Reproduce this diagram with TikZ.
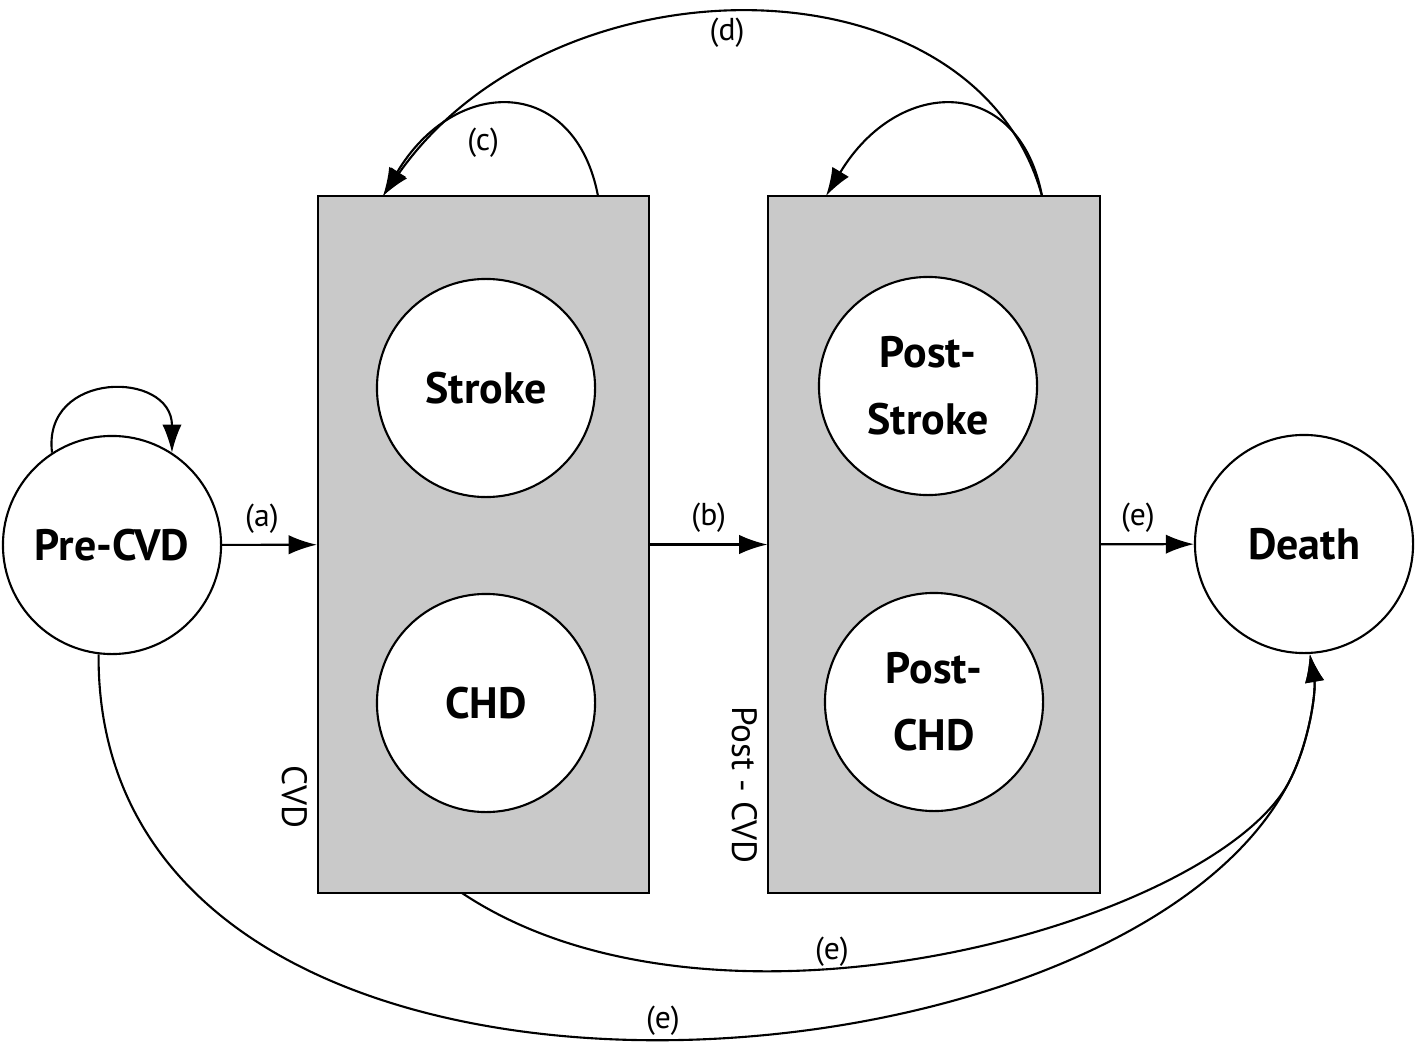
\documentclass[tikz,border=0pt]{standalone}
\usepackage{fontspec}
\setmainfont{PT Sans}
\usetikzlibrary{arrows.meta}
\definecolor{boxgray}{RGB}{201,201,201}

\begin{document}
\begin{tikzpicture}[x=0.01cm, y=-0.01cm, line width=0.6pt,
	state/.style={circle, draw, fill=white, minimum size=2.18cm, inner sep=0pt, align=center, font=\fontsize{12.5}{19}\selectfont\bfseries},
	groupbox/.style={draw, fill=boxgray, minimum width=3.31cm, minimum height=6.97cm, inner sep=0pt},
	trans/.style={-{Latex[length=8pt,width=5.5pt]}},
	lab/.style={font=\fontsize{9}{11}\selectfont, inner sep=1pt},
	side/.style={rotate=-90, font=\fontsize{10}{12}\selectfont}]
		\useasboundingbox (0,0) rectangle (1416,1046);
		
		% CVD e Post-CVD
		\node[groupbox] (cvd) at (483.5,544.5) {};
		\node[groupbox] (postcvd) at (934,544.5) {};
		\node[side] (cvdlab) at (295,797) {CVD};
		\node[side] (postcvdlab) at (745,785) {Post - CVD};
		
		% stati
		\node[state] (pre) at (112,545) {Pre-CVD};
		\node[state] (stroke) at (486,388) {Stroke};
		\node[state] (chd) at (486,703) {CHD};
		\node[state] (poststroke) at (928,386) {Post-\\Stroke};
		\node[state] (postchd) at (934,702) {Post-\\CHD};
		\node[state] (death) at (1304,544) {Death};
		
		% (a), (b), (e)
		\draw[trans] (pre) -- (cvd) node [pos=0.42, above=2pt, lab]{(a)};
		\draw[trans] (cvd) -- (postcvd) node [midway, above=2pt, lab]{(b)};
		\draw[trans] (postcvd) -- (death) node [pos=0.4, above=2pt, lab]{(e)};
		
		% anelli
		\coordinate (cvdout) at (598,196);
		\coordinate (cvdin) at (383,196);
		\coordinate (postout) at (1042,196);
		\coordinate (postin) at (826,196);
		\coordinate (cvdbot) at (462,893);
		\coordinate (merge) at (1290,780);
		
		\draw[trans] (pre.123) .. controls (42,370) and (172,370) .. (pre.57);
		\draw[trans] (cvdout) .. controls (575,75) and (455,75) .. (cvdin) node [pos=0.6, below=4pt, lab]{(c)};
		\draw[trans] (postout) .. controls (1019,75) and (899,75) .. (postin);
		\draw[trans] (postout) .. controls (975,-48) and (554,-48) .. (cvdin) node [pos=0.53, below=0pt, lab]{(d)};
		
		% verso Death
		\draw[trans] (cvdbot) .. controls (720,1065) and (1220,920) .. (merge)
			.. controls (1310,740) and (1316,690) .. (death.-87);
		\draw[trans] (pre.-97) .. controls (95,1183) and (1124,1112) .. (merge)
			.. controls (1310,740) and (1316,690) .. (death.-87);
		\node[lab] (elab1) at (832,952) {(e)};
		\node[lab] (elab2) at (663,1021) {(e)};
\end{tikzpicture}
\end{document}
